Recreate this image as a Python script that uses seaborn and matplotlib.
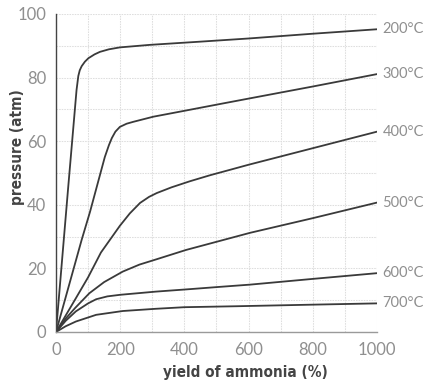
import matplotlib
matplotlib.use("Agg")
import os
import matplotlib.pyplot as plt
from matplotlib import font_manager as fm
import seaborn as sns
import pandas as pd
import numpy as np

temps = ["200°C", "300°C", "400°C", "500°C", "600°C", "700°C"]

x_200 = [0, 38, 64, 69.5, 74, 80, 90, 101, 120, 137, 165, 199, 293, 449, 600, 800, 1000]
y_200 = [0, 45.5, 76.1, 80.5, 82.3, 83.6, 85.0, 86.1, 87.3, 88.1, 88.9, 89.5, 90.3, 91.3, 92.3, 93.8, 95.2]

x_300 = [0, 80, 106, 152, 165, 174, 185, 199, 220, 241, 303, 397, 511, 600, 800, 1000]
y_300 = [0, 29, 37.8, 55.0, 58.8, 61.0, 63.0, 64.5, 65.5, 66.1, 67.7, 69.5, 71.7, 73.4, 77.2, 81.1]

x_400 = [0, 60, 100, 140, 199, 230, 262, 290, 314, 360, 417, 480, 542, 600, 800, 1000]
y_400 = [0, 10.3, 17.2, 25.0, 33.4, 37.3, 40.6, 42.5, 43.7, 45.5, 47.4, 49.3, 51.0, 52.6, 57.8, 63.0]

x_500 = [0, 30, 60, 104, 150, 208, 260, 311, 405, 542, 605, 800, 1000]
y_500 = [0, 4.2, 7.6, 12.2, 15.7, 19.0, 21.2, 22.8, 25.8, 29.5, 31.2, 35.8, 40.7]

x_600 = [0, 30, 62, 100, 125, 160, 200, 311, 420, 511, 605, 800, 1000]
y_600 = [0, 3.5, 6.5, 9.0, 10.3, 11.2, 11.7, 12.7, 13.5, 14.2, 14.9, 16.7, 18.5]

x_700 = [0, 30, 62, 125, 208, 311, 400, 561, 800, 1000]
y_700 = [0, 1.8, 3.3, 5.4, 6.6, 7.3, 7.8, 8.1, 8.6, 9.0]

xs = [x_200, x_300, x_400, x_500, x_600, x_700]
ys = [y_200, y_300, y_400, y_500, y_600, y_700]

rows = []
for t, xv, yv in zip(temps, xs, ys):
    for a, b in zip(xv, yv):
        rows.append({"temp": t, "yield": a, "pressure": b})
df = pd.DataFrame(rows)

sns.set_style("white")
plt.rcParams["font.family"] = ["Lato", "DejaVu Sans"]

# find a condensed (upright) bold font for the axis titles
def find_condensed_bold():
    files = set(fm.findSystemFonts()) | {f.fname for f in fm.fontManager.ttflist}
    exact = ["liberationsansnarrow-bold.ttf", "dejavusanscondensed-bold.ttf"]
    for p in exact:
        for f in files:
            if os.path.basename(f).lower() == p:
                return f
    for f in files:
        b = os.path.basename(f).lower()
        if ("narrow" in b or "condensed" in b) and "bold" in b and "italic" not in b and "oblique" not in b:
            return f
    return None

cb = find_condensed_bold()
if cb:
    label_fp = fm.FontProperties(fname=cb, size=11)
else:
    label_fp = fm.FontProperties(family=["Roboto", "DejaVu Sans"], weight="bold", size=10)

fig = plt.figure(figsize=(4.39, 3.88), dpi=100)
ax = fig.add_axes([56/439, (388-332)/388, (377-56)/439, (332-14)/388])

line_col = "#3a3a3a"
sns.lineplot(data=df, x="yield", y="pressure", hue="temp",
             palette=[line_col]*len(temps), legend=False, ax=ax,
             linewidth=1.3, sort=False, estimator=None)

ax.set_xlim(0, 1000)
ax.set_ylim(0, 100)
ax.set_xticks([0, 200, 400, 600, 800, 1000])
ax.set_yticks([0, 20, 40, 60, 80, 100])
ax.set_xticks(np.arange(0, 1001, 100), minor=True)
ax.set_yticks(np.arange(0, 101, 10), minor=True)
ax.grid(True, which="both", color="#dedede", linestyle=(0, (1.5, 1)), linewidth=0.75)
ax.set_axisbelow(True)

for s in ["top", "right"]:
    ax.spines[s].set_visible(False)
ax.spines["left"].set_color("#444444")
ax.spines["left"].set_linewidth(1.0)
ax.spines["bottom"].set_color("#9a9a9a")
ax.spines["bottom"].set_linewidth(1.0)

ax.tick_params(axis="both", which="major", length=4, width=0.8, color="#9a9a9a",
               labelcolor="#8f8f8f", labelsize=12, pad=3)
ax.tick_params(axis="both", which="minor", length=0)

ax.set_xlabel("yield of ammonia (%)", fontproperties=label_fp, color="#444444")
ax.set_ylabel("pressure (atm)", fontproperties=label_fp, color="#444444")
ax.xaxis.set_label_coords(0.589, -0.104)
ax.yaxis.set_label_coords(-0.097, 0.58)

for t, xv, yv in zip(temps, xs, ys):
    ax.annotate(t, xy=(xv[-1], yv[-1]), xytext=(4, 0), textcoords="offset points",
                va="center", ha="left", fontsize=10.5, color="#8f8f8f",
                annotation_clip=False)

fig.savefig("out.png", dpi=100)
